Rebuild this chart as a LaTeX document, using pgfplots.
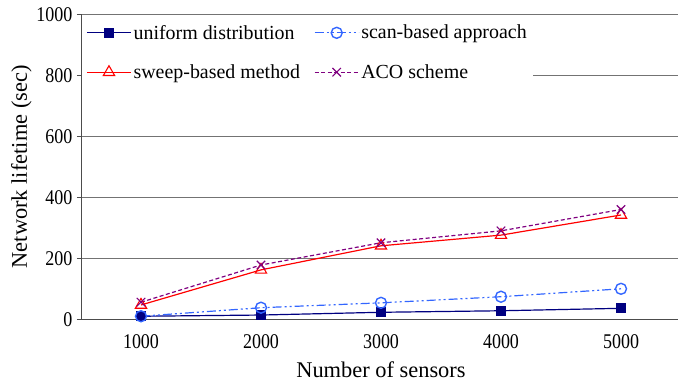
\documentclass[border=0pt]{standalone}
\usepackage{fontspec}
\setmainfont{Liberation Serif}
\newfontfamily\tickfont[FakeStretch=0.86]{Liberation Serif}
\usepackage{pgfplots}
\pgfplotsset{compat=1.18}
\definecolor{cnavy}{RGB}{0,0,128}
\definecolor{cblue}{RGB}{51,102,255}
\definecolor{cred}{RGB}{255,0,0}
\definecolor{cpurple}{RGB}{128,0,128}
\begin{document}
\begin{tikzpicture}
\begin{axis}[
  scale only axis,
  x=120bp, height=305bp,
  xmin=0.5, xmax=5.5, ymin=0, ymax=1000,
  axis x line*=bottom, axis y line*=left,
  axis line style={black!70, line width=0.8pt},
  xtick={1,2,3,4,5}, xticklabels={1000,2000,3000,4000,5000},
  extra x ticks={1.5,2.5,3.5,4.5},
  extra x tick labels={},
  extra x tick style={major tick length=5bp, tick style={black!70,line width=0.8pt}, tick align=inside},
  xtick style={draw=none},
  ytick={0,200,...,1000},
  ytick style={black!70, line width=0.8pt},
  tick align=outside, major tick length=4bp,
  ymajorgrids, grid style={black!55, line width=0.8pt},
  tick label style={font=\tickfont\fontsize{21}{23}\selectfont},
  /pgf/number format/assume math mode=true,
  /pgf/number format/1000 sep={},
  yticklabel style={xshift=-1bp},
  xticklabel style={yshift=-8bp},
  xlabel={Number of sensors}, ylabel={Network lifetime (sec)},
  label style={font=\fontsize{22.5}{25}\selectfont},
  xlabel style={yshift=-2bp},
  ylabel style={yshift=-2bp},
  legend columns=2,
  legend style={at={(0.002,0.985)}, anchor=north west, draw=none, fill=white,
    font=\fontsize{20}{22}\selectfont, row sep=20bp, inner sep=4bp,
    /tikz/every even column/.append style={column sep=12bp}},
  legend cell align=left,
  every axis plot post/.append style={
    legend image code/.code={
      \draw[##1] (0bp,0bp) -- (44bp,0bp);
      \draw[##1, solid] plot coordinates {(22bp,0bp)};
    }},
]
\addplot[cnavy, line width=1.2pt, mark=square*, mark size=4.5bp, mark options={fill=cnavy,solid}]
  coordinates {(1,10) (2,14) (3,23) (4,28) (5,36)};
\addlegendentry{uniform distribution}
\addplot[cblue, line width=1.2pt, dash pattern=on 9bp off 3bp on 2bp off 3bp on 2bp off 3bp, mark=o, mark size=5.5bp, mark options={solid, line width=1.4pt}]
  coordinates {(1,10) (2,38) (3,54) (4,74) (5,100)};
\addlegendentry{scan-based approach}
\addplot[cred, line width=1.2pt, mark=triangle, mark size=6.5bp, mark options={solid, line width=1.1pt}]
  coordinates {(1,47) (2,162) (3,241) (4,276) (5,342)};
\addlegendentry{sweep-based method}
\addplot[cpurple, line width=1.2pt, dash pattern=on 4bp off 2.5bp, mark=x, mark size=6bp, mark options={solid, line width=1.1pt}]
  coordinates {(1,56) (2,178) (3,251) (4,290) (5,360)};
\addlegendentry{ACO scheme}
\end{axis}
\pgfresetboundingbox
\path[use as bounding box] (-81bp,-63.7bp) rectangle (597bp,319.3bp);
\end{tikzpicture}
\end{document}
